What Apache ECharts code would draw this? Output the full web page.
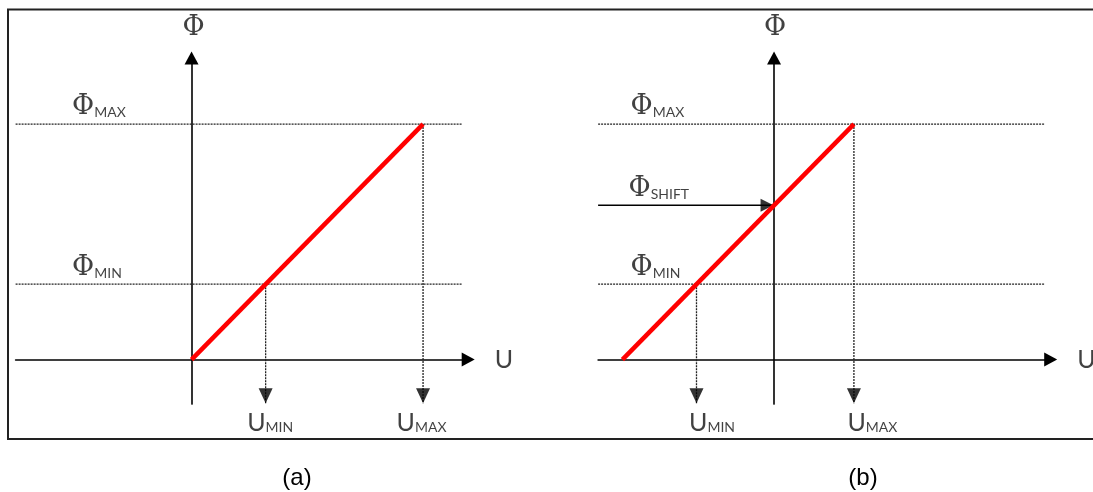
<!DOCTYPE html>
<html>
<head>
<meta charset="utf-8">
<script src="https://cdn.jsdelivr.net/npm/echarts@6/dist/echarts.min.js"></script>
<style>
  html, body { margin: 0; padding: 0; background: #fff; }
  #chart { width: 1093px; height: 492px; }
</style>
</head>
<body>
<div id="chart"></div>
<script>
// Flux level Φ against control signal U (normalised units, Φ_MAX = 1)
const phiLevels = [1.0, 0.32];             // Φ_MAX, Φ_MIN

// (a) Φ proportional to U
const uLevelsA = [0.32, 1.0];              // U_MIN, U_MAX
const lineA = [[0, 0], [1.0, 1.0]];

// (b) characteristic shifted by Φ_SHIFT
const phiShiftB = 0.655;
const uLevelsB = [-0.335, 0.345];          // U_MIN, U_MAX
const lineB = [[-0.655, 0], [0.345, 1.0]];

// visible extent of both axes
const xRange = [-0.76, 1.195];
const yRange = [-0.189, 1.28];
const guideEnd = 1.17;      // where the dotted Φ guides stop
const dropEnd = -0.185;     // tip of the dotted U drop arrows

const panelNames = ['(a)', '(b)'];

const INK = '#111';
const phiFont = 'DejaVu Serif';
const subFont = 'Lato';

const rich = {
  phi: { fontFamily: phiFont, fontSize: 27, color: INK, verticalAlign: 'bottom', lineHeight: 28 },
  u:   { fontFamily: subFont, fontSize: 25, color: INK, verticalAlign: 'bottom', lineHeight: 26 },
  sub: { fontFamily: subFont, fontSize: 14, color: INK, verticalAlign: 'bottom', lineHeight: 16, padding: [0, 0, 1, 0] }
};

function textSeries(grid, items) {
  return {
    type: 'scatter', xAxisIndex: grid, yAxisIndex: grid, silent: true, z: 10,
    symbolSize: 1, itemStyle: { color: 'rgba(0,0,0,0)' },
    data: items.map(it => ({
      value: it.at,
      label: {
        show: true, formatter: it.text, rich: rich,
        position: it.off, align: it.align || 'left', verticalAlign: 'middle'
      }
    }))
  };
}

function dotted(grid, pts) {
  return {
    type: 'line', xAxisIndex: grid, yAxisIndex: grid, silent: true, z: 3,
    showSymbol: false, symbol: 'none', data: pts,
    lineStyle: { color: '#222', width: 1.3, type: [2, 1] }
  };
}

function heads(grid, pts, rotate, offset, size) {
  return {
    type: 'scatter', xAxisIndex: grid, yAxisIndex: grid, silent: true, z: 6,
    symbol: 'triangle', symbolSize: size, symbolRotate: rotate, symbolOffset: offset,
    itemStyle: { color: '#000' }, data: pts
  };
}

function redLine(grid, pts) {
  return {
    type: 'line', xAxisIndex: grid, yAxisIndex: grid, silent: true, z: 8,
    showSymbol: false, symbol: 'none', data: pts,
    lineStyle: { color: '#ff0000', width: 4.5, cap: 'butt' }
  };
}

function axisPair(grid) {
  const line = {
    show: true, onZero: true,
    symbol: ['none', 'triangle'], symbolSize: [14, 13],
    lineStyle: { color: '#000', width: 1.6 }
  };
  return {
    x: { type: 'value', gridIndex: grid, min: xRange[0], max: xRange[1],
         axisLine: line, axisTick: { show: false }, axisLabel: { show: false }, splitLine: { show: false } },
    y: { type: 'value', gridIndex: grid, min: yRange[0], max: yRange[1],
         axisLine: line, axisTick: { show: false }, axisLabel: { show: false }, splitLine: { show: false } }
  };
}

const ax0 = axisPair(0), ax1 = axisPair(1);
const [phiMax, phiMin] = phiLevels;

const series = [
  // ---- panel (a)
  dotted(0, [[xRange[0], phiMax], [guideEnd, phiMax]]),
  dotted(0, [[xRange[0], phiMin], [guideEnd, phiMin]]),
  dotted(0, [[uLevelsA[0], phiMin], [uLevelsA[0], dropEnd]]),
  dotted(0, [[uLevelsA[1], phiMax], [uLevelsA[1], dropEnd]]),
  heads(0, [[uLevelsA[0], dropEnd], [uLevelsA[1], dropEnd]], 180, [0, -7.5], [14, 15]),
  redLine(0, lineA),
  textSeries(0, [
    { at: [0, yRange[1]], text: '{phi|Φ}', off: [2.5, -30], align: 'center' },
    { at: [xRange[1], 0], text: '{u|U}', off: [27, 0] },
    { at: [xRange[0], phiMax], text: '{phi|Φ}{sub|MAX}', off: [57, -17] },
    { at: [xRange[0], phiMin], text: '{phi|Φ}{sub|MIN}', off: [57, -16] },
    { at: [uLevelsA[0], dropEnd], text: '{u|U}{sub|MIN}', off: [-18, 20] },
    { at: [uLevelsA[1], dropEnd], text: '{u|U}{sub|MAX}', off: [-26, 20] }
  ]),
  // ---- panel (b)
  dotted(1, [[xRange[0], phiMax], [guideEnd, phiMax]]),
  dotted(1, [[xRange[0], phiMin], [guideEnd, phiMin]]),
  dotted(1, [[uLevelsB[0], phiMin], [uLevelsB[0], dropEnd]]),
  dotted(1, [[uLevelsB[1], phiMax], [uLevelsB[1], dropEnd]]),
  heads(1, [[uLevelsB[0], dropEnd], [uLevelsB[1], dropEnd]], 180, [0, -7.5], [14, 15]),
  {
    type: 'line', xAxisIndex: 1, yAxisIndex: 1, silent: true, z: 5,
    showSymbol: false, symbol: 'none',
    data: [[xRange[0], phiShiftB], [0, phiShiftB]],
    lineStyle: { color: '#000', width: 1.6 }
  },
  heads(1, [[0, phiShiftB]], -90, [-7, 0], [13, 13]),
  redLine(1, lineB),
  textSeries(1, [
    { at: [0, yRange[1]], text: '{phi|Φ}', off: [1.5, -30], align: 'center' },
    { at: [xRange[1], 0], text: '{u|U}', off: [27, 0] },
    { at: [xRange[0], phiMax], text: '{phi|Φ}{sub|MAX}', off: [33, -17] },
    { at: [xRange[0], phiShiftB], text: '{phi|Φ}{sub|SHIFT}', off: [31, -16] },
    { at: [xRange[0], phiMin], text: '{phi|Φ}{sub|MIN}', off: [33, -16] },
    { at: [uLevelsB[0], dropEnd], text: '{u|U}{sub|MIN}', off: [-7, 20] },
    { at: [uLevelsB[1], dropEnd], text: '{u|U}{sub|MAX}', off: [-6, 20] }
  ])
];

const chart = echarts.init(document.getElementById('chart'), null, { renderer: 'canvas' });
chart.setOption({
  backgroundColor: '#fff',
  animation: false,
  title: [
    { text: panelNames[0], left: 292, top: 461, textAlign: 'center',
      textStyle: { fontFamily: 'Liberation Sans', fontSize: 24, fontWeight: 'normal', color: '#000' } },
    { text: panelNames[1], left: 858, top: 461, textAlign: 'center',
      textStyle: { fontFamily: 'Liberation Sans', fontSize: 24, fontWeight: 'normal', color: '#000' } }
  ],
  grid: [
    { left: 15.6, top: 58.1, width: 452.6, height: 346 },
    { left: 598.1, top: 58.1, width: 452.6, height: 346 }
  ],
  xAxis: [ax0.x, ax1.x],
  yAxis: [ax0.y, ax1.y],
  graphic: [{
    type: 'rect', silent: true, z: 100,
    shape: { x: 8, y: 9.5, width: 1100, height: 429.5 },
    style: { fill: 'none', stroke: '#222', lineWidth: 2 }
  }],
  series: series
});
</script>
</body>
</html>
